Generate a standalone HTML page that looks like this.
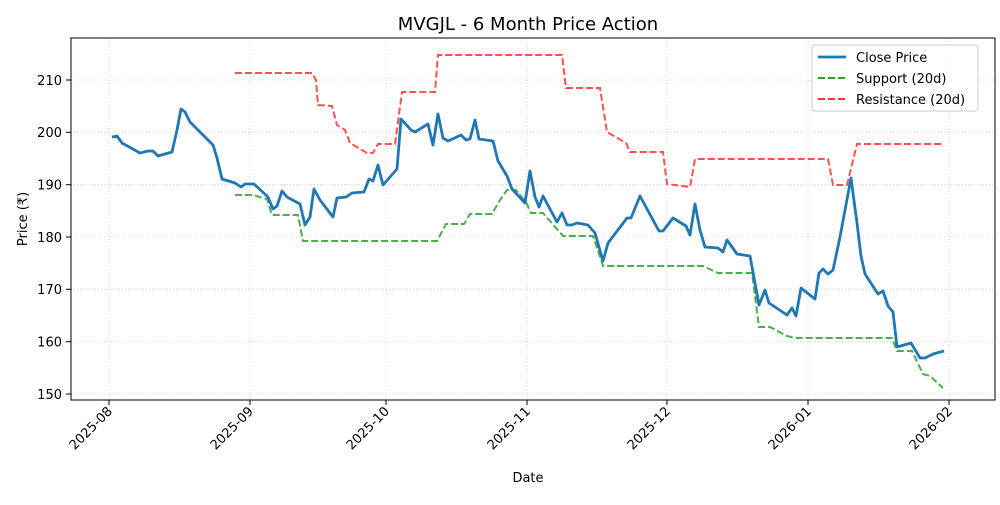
<!DOCTYPE html><html><head><style>body{margin:0;background:#fff}svg{font-family:"DejaVu Sans","Liberation Sans",sans-serif}</style></head><body>
<svg width="1000" height="500" xmlns="http://www.w3.org/2000/svg">
<rect width="1000" height="500" fill="#fff"/>
<g stroke="#ccc" stroke-width="0.8" stroke-dasharray="1,2">
<line x1="109" y1="38" x2="109" y2="400"/><line x1="250" y1="38" x2="250" y2="400"/><line x1="386" y1="38" x2="386" y2="400"/><line x1="527" y1="38" x2="527" y2="400"/><line x1="667" y1="38" x2="667" y2="400"/><line x1="808" y1="38" x2="808" y2="400"/><line x1="949" y1="38" x2="949" y2="400"/>
<line x1="71" y1="394" x2="995" y2="394"/><line x1="71" y1="341.7" x2="995" y2="341.7"/><line x1="71" y1="289.3" x2="995" y2="289.3"/><line x1="71" y1="237" x2="995" y2="237"/><line x1="71" y1="184.7" x2="995" y2="184.7"/><line x1="71" y1="132.3" x2="995" y2="132.3"/><line x1="71" y1="80" x2="995" y2="80"/>
</g>
<polyline fill="none" stroke="#2ca02c" stroke-opacity="0.85" stroke-width="2" stroke-dasharray="7,3" points="235,195 253,195 263,198 267,199 272,215 298,215 303,241 437,241 446,224 464,224 470,214 492,214 500,200 507,190 516,190 526,202 531,213 543,213 563,236 593,236 603,266 703,266 718,273 752,273 759,327 770,327 787,336 795,338 892,338 897,351 912,351 923,374 930,376 943,388"/>
<polyline fill="none" stroke="#ff3333" stroke-opacity="0.85" stroke-width="2" stroke-dasharray="7,3" points="235,73 312,73 316,80 318,105 332,106 337,125 345,130 350,143 367,153 373,153 378,144 395,144 402,92 435,92 438,55 562,55 566,88 600,88 607,132 626,143 630,152 663,152 667,184 690,187 695,159 828,159 833,185 847,185 857,144 942,144"/>
<polyline fill="none" stroke="#1f77b4" stroke-width="2.8" stroke-linejoin="round" points="112,137 117,136 122,143 140,153 148,151 153,151 158,156 172,152 177,130 181,109 185,112 190,122 213,145 217,158 222,179 235,183 241,187 245,184 254,184 268,197 273,209 277,206 282,191 287,197 300,204 305,225 310,217 314,189 320,200 333,217 337,198 346,197 352,193 364,192 369,179 373,181 378,165 383,185 397,169 401,119 411,130 415,132 428,124 433,145 438,114 443,138 448,141 461,135 466,140 470,139 475,120 479,139 493,141 498,161 507,176 512,189 525,203 530,171 535,197 539,207 543,196 557,222 562,213 567,225 572,225 577,223 588,225 595,233 603,261 608,243 627,218 631,218 640,196 659,231 663,231 673,218 686,226 690,235 695,204 700,230 705,247 718,248 723,252 727,240 737,254 750,256 759,305 765,290 769,303 787,315 792,308 796,316 801,288 815,299 819,273 823,269 828,274 833,270 840,237 851,178 857,223 861,256 865,274 878,294 883,291 888,306 893,312 897,347 911,343 920,358 925,358 933,354 944,351"/>
<rect x="71" y="38" width="924" height="362" fill="none" stroke="#000" stroke-width="1"/>
<g stroke="#000"><line x1="66" y1="394" x2="71" y2="394"/><line x1="66" y1="341.7" x2="71" y2="341.7"/><line x1="66" y1="289.3" x2="71" y2="289.3"/><line x1="66" y1="237" x2="71" y2="237"/><line x1="66" y1="184.7" x2="71" y2="184.7"/><line x1="66" y1="132.3" x2="71" y2="132.3"/><line x1="66" y1="80" x2="71" y2="80"/>
<line x1="109" y1="400" x2="109" y2="405"/><line x1="250" y1="400" x2="250" y2="405"/><line x1="386" y1="400" x2="386" y2="405"/><line x1="527" y1="400" x2="527" y2="405"/><line x1="667" y1="400" x2="667" y2="405"/><line x1="808" y1="400" x2="808" y2="405"/><line x1="949" y1="400" x2="949" y2="405"/></g>
<g font-size="13" text-anchor="end"><text x="62" y="399">150</text><text x="62" y="346.5">160</text><text x="62" y="294">170</text><text x="62" y="242">180</text><text x="62" y="189.5">190</text><text x="62" y="137">200</text><text x="62" y="85">210</text></g>
<g font-size="13" text-anchor="end">
<text transform="translate(113,412) rotate(-45)">2025-08</text><text transform="translate(254,412) rotate(-45)">2025-09</text><text transform="translate(390,412) rotate(-45)">2025-10</text><text transform="translate(531,412) rotate(-45)">2025-11</text><text transform="translate(671,412) rotate(-45)">2025-12</text><text transform="translate(812,412) rotate(-45)">2026-01</text><text transform="translate(953,412) rotate(-45)">2026-02</text></g>
<text x="528" y="482" font-size="13" text-anchor="middle">Date</text>
<text transform="translate(27,219) rotate(-90)" font-size="13" text-anchor="middle">Price (₹)</text>
<text x="528" y="30" font-size="18" text-anchor="middle">MVGJL - 6 Month Price Action</text>
<rect x="812" y="45" width="166" height="66" rx="3" fill="#fff" fill-opacity="0.8" stroke="#ccc"/>
<line x1="818" y1="57" x2="846" y2="57" stroke="#1f77b4" stroke-width="2.8"/>
<line x1="818" y1="78" x2="846" y2="78" stroke="#2ca02c" stroke-width="2" stroke-dasharray="7,3"/>
<line x1="818" y1="99" x2="846" y2="99" stroke="#ff3333" stroke-width="2" stroke-dasharray="7,3"/>
<g font-size="13"><text x="856" y="62">Close Price</text><text x="856" y="83">Support (20d)</text><text x="856" y="104">Resistance (20d)</text></g>
</svg></body></html>
